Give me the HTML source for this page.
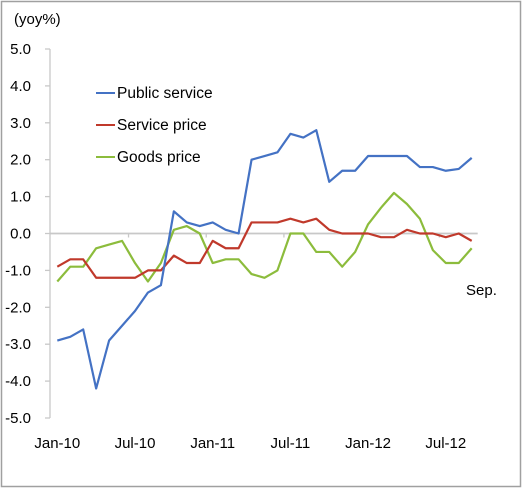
<!DOCTYPE html>
<html><head><meta charset="utf-8"><style>
html,body{margin:0;padding:0;background:#fff}
svg{display:block;font-family:"Liberation Sans",Arial,sans-serif}
</style></head><body>
<svg id="chart" width="523" height="489">
<rect x="1.5" y="1.5" width="519" height="485" fill="#fff" stroke="#a0a0a0" stroke-width="1.5"/>
<text x="14" y="24" font-size="15">(yoy%)</text>
<g id="grid"></g>
<g id="series"></g>
<g>
<line x1="96" y1="93" x2="115" y2="93" stroke="#4472c4" stroke-width="2"/>
<text x="117" y="98" font-size="15.5">Public service</text>
<line x1="96" y1="125" x2="115" y2="125" stroke="#c0392b" stroke-width="2"/>
<text x="117" y="130" font-size="15.5">Service price</text>
<line x1="96" y1="157" x2="115" y2="157" stroke="#8cbc3c" stroke-width="2"/>
<text x="117" y="162" font-size="15.5">Goods price</text>
</g>
<text x="466" y="295" font-size="15">Sep.</text>
</svg>
<script>
const yTicks=[5,4,3,2,1,0,-1,-2,-3,-4,-5];
const xLabels=["Jan-10","Jul-10","Jan-11","Jul-11","Jan-12","Jul-12"];
const xLabelIdx=[0,6,12,18,24,30];
const publicService=[-2.9,-2.8,-2.6,-4.2,-2.9,-2.5,-2.1,-1.6,-1.4,0.6,0.3,0.2,0.3,0.1,0.0,2.0,2.1,2.2,2.7,2.6,2.8,1.4,1.7,1.7,2.1,2.1,2.1,2.1,1.8,1.8,1.7,1.75,2.05];
const servicePrice=[-0.9,-0.7,-0.7,-1.2,-1.2,-1.2,-1.2,-1.0,-1.0,-0.6,-0.8,-0.8,-0.2,-0.4,-0.4,0.3,0.3,0.3,0.4,0.3,0.4,0.1,0.0,0.0,0.0,-0.1,-0.1,0.1,0.0,0.0,-0.1,0.0,-0.2];
const goodsPrice=[-1.3,-0.9,-0.9,-0.4,-0.3,-0.2,-0.8,-1.3,-0.8,0.1,0.2,0.0,-0.8,-0.7,-0.7,-1.1,-1.2,-1.0,0.0,0.0,-0.5,-0.5,-0.9,-0.5,0.25,0.7,1.1,0.8,0.4,-0.45,-0.8,-0.8,-0.4];
const NS="http://www.w3.org/2000/svg";
const x0=57.3,dx=12.95,yTop=49,yBot=418,vMax=5,vMin=-5;
function X(i){return x0+i*dx;}
function Y(v){return yTop+(vMax-v)/(vMax-vMin)*(yBot-yTop);}
function mk(t,a,p){const e=document.createElementNS(NS,t);for(const k in a)e.setAttribute(k,a[k]);p.appendChild(e);return e;}
const g=document.getElementById('grid');
let ax=mk('line',{x1:50,y1:yTop,x2:50,y2:yBot,stroke:'#c8c8c8','stroke-width':1.3},g);


yTicks.forEach(v=>{
 let t=mk('line',{x1:45,y1:Y(v),x2:50,y2:Y(v),stroke:'#c8c8c8','stroke-width':1.3},g);
 
 
 let l=mk('text',{x:31,y:Y(v)+5,'font-size':15,'text-anchor':'end'},g);
 l.textContent=v.toFixed(1);
 
 
});
let zx=mk('line',{x1:50,y1:Y(0),x2:X(32)+6,y2:Y(0),stroke:'#c8c8c8','stroke-width':1.8},g);


[5.5,11.5,17.5,23.5,29.5].forEach(i=>{
 let t=mk('line',{x1:X(i),y1:Y(0),x2:X(i),y2:Y(0)+4,stroke:'#c8c8c8','stroke-width':1.3},g);
 
 
});
xLabels.forEach((s,k)=>{
 let l=mk('text',{x:X(xLabelIdx[k]),y:448,'font-size':15,'text-anchor':'middle'},g);
 l.textContent=s;
 
 
});
const sg=document.getElementById('series');
function line(arr,col,name){
 let p=mk('polyline',{points:arr.map((v,i)=>X(i)+','+Y(v)).join(' '),fill:'none',stroke:col,'stroke-width':2.2,'stroke-linejoin':'round'},sg);
 
 
}
line(goodsPrice,'#8cbc3c','goods-price-line');
line(servicePrice,'#c0392b','service-price-line');
line(publicService,'#4472c4','public-service-line');
</script>
</body></html>
